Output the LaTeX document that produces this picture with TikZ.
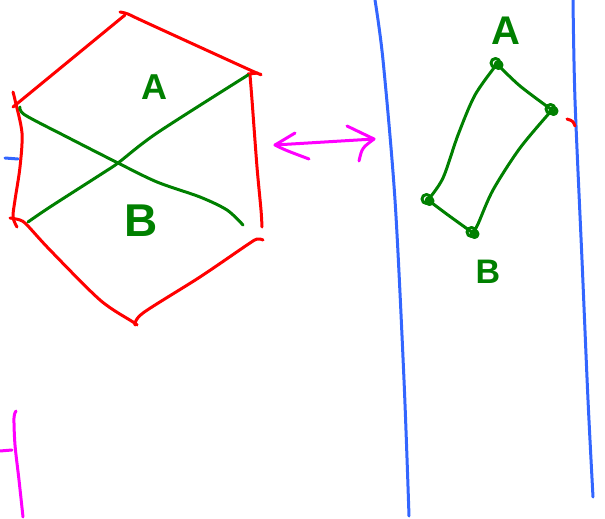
\documentclass[tikz,border=0pt]{standalone}
\usepackage{fontspec}
\setsansfont{Liberation Sans}
\definecolor{penred}{RGB}{255,0,0}
\definecolor{pengreen}{RGB}{0,128,0}
\definecolor{penblue}{RGB}{51,102,255}
\definecolor{penmag}{RGB}{255,0,255}
\tikzset{
  pen/.style={line width=3pt, line cap=round, line join=round},
  redpen/.style={pen, draw=penred},
  greenpen/.style={pen, draw=pengreen},
  bluepen/.style={pen, draw=penblue},
  magpen/.style={pen, draw=penmag},
  lbl/.style={text=pengreen, inner sep=0pt}
}
\begin{document}
\begin{tikzpicture}[x=1pt,y=-1pt]
\useasboundingbox (0,0) rectangle (605,519);
% red hexagon
\draw[redpen] (13,107) -- (125,15);
\draw[redpen] plot[smooth] coordinates {(120,12) (128,14) (145,22) (250,70) (260,74)};
\draw[redpen] (248,74) -- (258,73);
\draw[redpen] plot[smooth] coordinates {(250,75) (252,100) (257,167) (261,210) (262,227)};
\draw[redpen] plot[smooth] coordinates {(263,240) (257,239) (247,245) (200,277) (143,313) (135,325)};
\draw[redpen] plot[smooth] coordinates {(10,218) (20,220) (27,225) (50,250) (100,300) (133,322) (137,325)};
\draw[redpen] plot[smooth] coordinates {(13,92) (15,100) (22,133) (20,167) (15,200) (13,217) (17,227)};
% green cross
\draw[greenpen] plot[smooth] coordinates {(20,107) (25,115) (67,137) (118,163) (157,182) (200,197) (227,210) (243,225)};
\draw[greenpen] plot[smooth] coordinates {(28,222) (50,207) (103,173) (118,163) (157,133) (248,75)};
\node[lbl, font=\sffamily\bfseries\fontsize{36}{36}\selectfont] (hA) at (154,87) {A};
\node[lbl, font=\sffamily\bfseries\fontsize{46}{46}\selectfont] (hB) at (141,221) {B};
% magenta double arrow
\coordinate (ml) at (275,145);
\coordinate (mr) at (374,139);
\draw[magpen] (ml) -- (mr);
\draw[magpen] (295,133) -- (ml) .. controls (285,150) .. (309,159);
\draw[magpen] (347,126) -- (mr) .. controls (362,148) .. (359,161);
% blue lines
\draw[bluepen] plot[smooth] coordinates {(375,0) (383,60) (395,200) (404,380) (409,516)};
\draw[bluepen] plot[smooth] coordinates {(573,0) (575,100) (582,260) (588,400) (593,497)};
\draw[bluepen] (5,158) -- (18,159);
% small red arc
\draw[redpen] (567,119) .. controls (573,121) .. (575,126);
% magenta bottom left
\draw[magpen] plot[smooth] coordinates {(16,411) (14,418) (15,445) (19,480) (23,517)};
\draw[magpen] (0,451) -- (12,450);
% green parallelogram
\coordinate (pa) at (497,64);
\coordinate (pr) at (552,110);
\coordinate (pb) at (473,233);
\coordinate (pl) at (428,200);
\draw[greenpen] plot[smooth] coordinates {(pa) (475,95) (458,135) (443,178) (pl)};
\draw[greenpen] plot[smooth] coordinates {(pa) (520,86) (pr)};
\draw[greenpen] plot[smooth] coordinates {(pr) (520,148) (493,190) (478,224) (pb)};
\draw[greenpen] plot[smooth] coordinates {(pl) (448,215) (pb)};
\foreach \p in {pa,pr,pb,pl}{
  \draw[greenpen] ([shift={(-1.5,-1)}]\p) circle (4.5);
  \draw[greenpen] ([shift={(1.5,1)}]\p) circle (3.5);
}
\node[lbl, font=\sffamily\bfseries\fontsize{40}{40}\selectfont] (rA) at (506,31) {A};
\node[lbl, font=\sffamily\bfseries\fontsize{34}{34}\selectfont] (rB) at (488,272) {B};
\end{tikzpicture}
\end{document}
